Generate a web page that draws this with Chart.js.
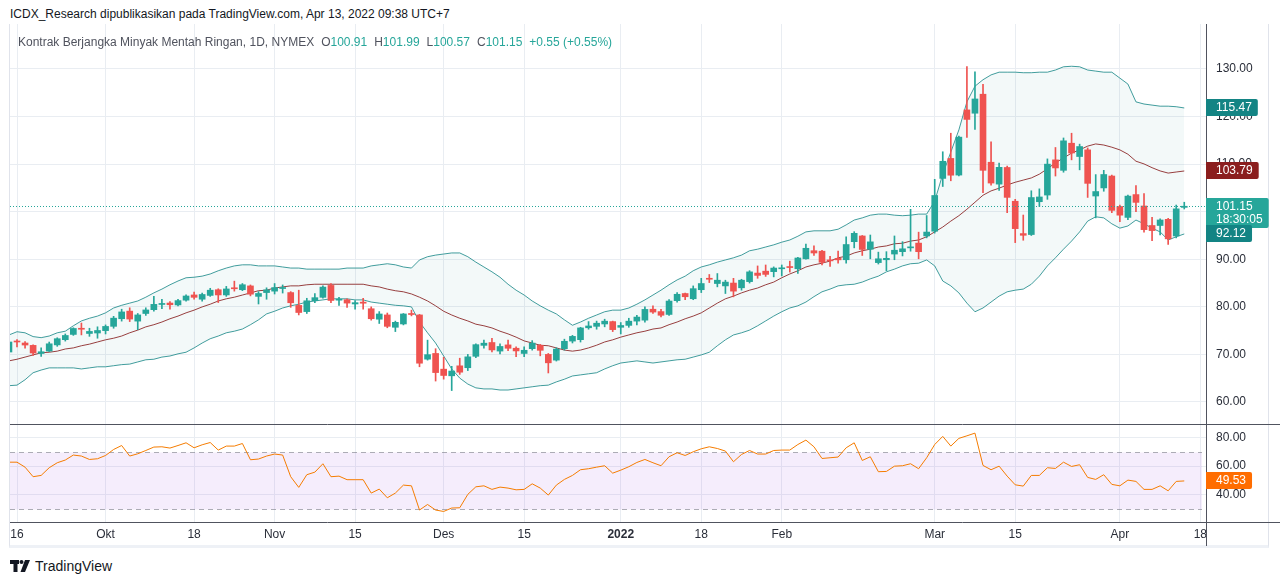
<!DOCTYPE html>
<html>
<head>
<meta charset="utf-8">
<script src="https://cdn.jsdelivr.net/npm/chart.js@4.4.1/dist/chart.umd.min.js"></script>
<style>
  body { margin: 0; background: #fff; width: 1280px; height: 584px; overflow: hidden; position: relative;
         font-family: "Liberation Sans", Arial, sans-serif; color: #131722; }
  #hdr { position: absolute; left: 10px; top: 7px; font-size: 12px; white-space: nowrap; }
  #frame { position: absolute; left: 9px; top: 24px; width: 1258px; height: 521px;
           border-left: 1px solid #e0e3eb; border-right: 1px solid #e0e3eb; border-bottom: 3px solid #eef1f6; }
  #mainWrap { position: absolute; left: 0; top: 24px; }
  #rsiWrap { position: absolute; left: 0; top: 424px; }
  #legend { position: absolute; left: 18px; top: 35px; font-size: 12px; color: #50535e; white-space: nowrap; }
  #legend .v { color: #26a69a; }
  #legend .g { margin-left: 7px; }
  #logo { position: absolute; left: 10px; top: 558px; font-size: 14px; color: #131722; display: flex; align-items: center; }
  #logo svg { margin-right: 5px; }
</style>
</head>
<body>
<div id="hdr">ICDX_Research dipublikasikan pada TradingView.com, Apr 13, 2022 09:38 UTC+7</div>
<div id="frame"></div>
<div id="mainWrap"><canvas id="main" width="1280" height="400"></canvas></div>
<div id="rsiWrap"><canvas id="rsi" width="1280" height="122"></canvas></div>
<div id="legend">Kontrak Berjangka Minyak Mentah Ringan, 1D, NYMEX<span class="g">O</span><span class="v">100.91</span><span class="g">H</span><span class="v">101.99</span><span class="g">L</span><span class="v">100.57</span><span class="g">C</span><span class="v">101.15</span><span class="v g">+0.55 (+0.55%)</span></div>
<div id="logo">
  <svg width="20" height="14" viewBox="0 0 20 14">
    <rect x="0" y="1" width="9" height="4" fill="#131722"/>
    <rect x="3.5" y="1" width="4" height="12" fill="#131722"/>
    <circle cx="11.5" cy="3" r="2" fill="#131722"/>
    <polygon points="15,1 20,1 15,13 10.5,13" fill="#131722"/>
  </svg>TradingView</div>

<script>
// trading days (last two are empty future slots on the axis)
const dates = [
  '2021-09-15','2021-09-16','2021-09-17','2021-09-20','2021-09-21','2021-09-22','2021-09-23','2021-09-24','2021-09-27','2021-09-28',
  '2021-09-29','2021-09-30','2021-10-01','2021-10-04','2021-10-05','2021-10-06','2021-10-07','2021-10-08','2021-10-11','2021-10-12',
  '2021-10-13','2021-10-14','2021-10-15','2021-10-18','2021-10-19','2021-10-20','2021-10-21','2021-10-22','2021-10-25','2021-10-26',
  '2021-10-27','2021-10-28','2021-10-29','2021-11-01','2021-11-02','2021-11-03','2021-11-04','2021-11-05','2021-11-08','2021-11-09',
  '2021-11-10','2021-11-11','2021-11-12','2021-11-15','2021-11-16','2021-11-17','2021-11-18','2021-11-19','2021-11-22','2021-11-23',
  '2021-11-24','2021-11-26','2021-11-29','2021-11-30','2021-12-01','2021-12-02','2021-12-03','2021-12-06','2021-12-07','2021-12-08',
  '2021-12-09','2021-12-10','2021-12-13','2021-12-14','2021-12-15','2021-12-16','2021-12-17','2021-12-20','2021-12-21','2021-12-22',
  '2021-12-23','2021-12-27','2021-12-28','2021-12-29','2021-12-30','2021-12-31','2022-01-03','2022-01-04','2022-01-05','2022-01-06',
  '2022-01-07','2022-01-10','2022-01-11','2022-01-12','2022-01-13','2022-01-14','2022-01-18','2022-01-19','2022-01-20','2022-01-21',
  '2022-01-24','2022-01-25','2022-01-26','2022-01-27','2022-01-28','2022-01-31','2022-02-01','2022-02-02','2022-02-03','2022-02-04',
  '2022-02-07','2022-02-08','2022-02-09','2022-02-10','2022-02-11','2022-02-14','2022-02-15','2022-02-16','2022-02-17','2022-02-18',
  '2022-02-22','2022-02-23','2022-02-24','2022-02-25','2022-02-28','2022-03-01','2022-03-02','2022-03-03','2022-03-04','2022-03-07',
  '2022-03-08','2022-03-09','2022-03-10','2022-03-11','2022-03-14','2022-03-15','2022-03-16','2022-03-17','2022-03-18','2022-03-21',
  '2022-03-22','2022-03-23','2022-03-24','2022-03-25','2022-03-28','2022-03-29','2022-03-30','2022-03-31','2022-04-01','2022-04-04',
  '2022-04-05','2022-04-06','2022-04-07','2022-04-08','2022-04-11','2022-04-12','2022-04-13','2022-04-14','2022-04-18'
];

const open = [
  70.5,72.65,72.4,71.9,70.2,70.7,72.0,73.1,74.2,75.5,
  74.4,74.5,75.0,75.9,77.5,79.1,77.0,78.6,79.4,80.5,
  80.8,80.4,81.4,82.5,81.6,82.4,83.6,82.5,83.9,83.6,
  84.4,82.2,83.0,83.3,83.85,83.0,80.3,79.0,81.3,82.0,
  84.5,81.4,81.5,80.6,81.0,79.6,77.4,78.3,75.7,76.4,
  78.5,78.3,69.0,70.2,66.9,65.5,67.6,67.2,69.6,71.9,
  72.5,70.7,72.0,71.3,70.2,71.2,71.9,70.0,68.8,71.2,
  72.8,73.1,75.6,75.9,76.4,76.9,75.7,76.1,77.0,77.2,
  79.5,79.0,78.4,81.3,82.8,81.7,83.6,85.9,84.9,84.4,
  85.0,84.0,85.3,87.1,87.5,87.4,88.0,88.4,88.0,90.1,
  91.8,91.7,89.8,90.2,89.9,93.7,94.9,92.1,89.3,89.9,
  91.1,91.6,92.4,93.4,94.9,95.9,107.0,111.2,107.7,121.4,
  120.7,124.7,110.4,105.8,109.3,102.2,95.4,95.2,102.1,103.5,
  110.9,108.7,114.4,111.6,113.0,103.3,105.0,107.5,101.1,98.8,
  103.6,101.2,97.1,97.1,98.4,94.9,100.91
];
const high = [
  72.8,73.1,72.7,72.0,71.4,72.6,73.5,74.3,75.6,76.6,
  75.5,75.8,76.2,78.0,79.5,79.8,78.6,79.8,82.2,81.6,
  81.1,81.6,82.5,83.1,82.9,83.9,83.8,84.3,85.4,84.9,
  84.6,83.2,84.0,84.9,84.6,83.2,83.5,81.8,82.8,84.4,
  84.9,82.0,81.7,81.3,81.8,80.0,79.0,78.7,77.0,78.6,
  79.3,78.4,73.0,71.2,69.4,67.5,69.2,70.0,72.2,73.0,
  73.4,72.2,73.0,71.6,71.6,72.9,72.1,70.2,71.4,73.2,
  74.0,75.7,76.9,77.0,77.4,77.0,76.7,77.6,78.2,80.0,
  80.2,79.5,81.5,83.0,82.9,84.4,86.0,86.8,87.0,85.6,
  86.0,85.8,87.6,88.6,88.8,88.4,88.8,89.6,90.4,93.2,
  92.8,91.9,90.6,91.7,94.7,95.8,95.0,95.1,91.5,91.6,
  94.9,93.7,100.5,95.7,99.2,106.8,112.6,116.5,115.9,130.5,
  129.4,126.8,114.7,110.2,109.6,102.6,99.3,104.4,104.8,111.1,
  113.5,115.5,116.5,114.2,113.4,107.8,108.7,107.7,101.4,103.5,
  105.5,103.8,98.8,98.5,98.6,101.4,101.99
];
const low = [
  70.3,71.6,71.3,69.8,69.6,70.6,71.7,72.8,74.0,74.1,
  73.8,73.4,74.3,75.5,77.0,76.9,75.2,78.2,79.1,79.6,
  79.5,80.2,81.2,81.6,81.2,82.2,80.9,82.2,83.3,83.4,
  82.3,80.6,81.6,82.7,82.9,79.9,78.3,78.6,80.9,81.8,
  80.9,80.3,79.9,79.5,79.5,77.2,76.5,75.6,74.8,76.2,
  78.1,67.4,68.8,64.4,64.8,62.4,65.8,66.6,69.3,71.3,
  70.5,70.1,70.8,69.5,69.5,70.9,69.7,66.1,68.6,70.9,
  72.4,72.6,75.3,75.3,75.8,74.8,74.3,75.7,76.2,76.8,
  78.6,77.9,78.2,81.0,81.5,81.5,83.0,85.1,84.2,82.8,
  82.1,83.5,85.0,86.0,86.4,86.3,86.5,87.3,87.0,90.0,
  90.8,88.8,88.5,89.2,89.2,92.4,90.8,90.1,89.0,87.6,
  89.9,90.7,91.7,90.1,94.5,95.5,105.3,106.5,107.5,115.6,
  117.3,104.0,105.6,104.5,99.8,93.5,94.0,95.0,101.1,102.6,
  107.5,108.3,110.9,108.8,103.0,98.7,104.3,99.8,97.9,98.3,
  100.0,95.7,93.9,95.1,93.1,94.5,100.57
];
const close = [
  72.61,72.61,71.97,70.29,70.56,72.23,73.30,73.98,75.45,75.29,
  74.83,75.03,75.88,77.62,78.93,77.43,78.30,79.35,80.52,80.64,
  80.44,81.31,82.28,82.0,82.6,83.5,82.5,83.76,83.8,84.65,
  82.66,82.81,83.57,84.05,84.0,80.86,78.81,81.27,81.93,84.15,
  81.34,81.59,80.79,80.88,80.76,77.5,78.5,75.9,76.75,78.50,
  78.39,68.15,69.95,66.18,65.57,66.50,66.26,69.49,72.05,72.36,
  70.94,71.67,71.29,70.73,70.87,72.38,70.86,68.23,71.12,72.76,
  73.79,75.57,75.98,76.56,76.99,75.21,76.08,76.99,77.85,79.46,
  78.90,78.23,81.22,82.64,82.12,83.82,84.9,85.8,85.6,85.2,
  83.3,85.6,87.35,86.61,86.82,88.15,88.2,88.26,90.27,92.31,
  91.32,89.36,89.66,89.88,93.10,95.46,92.07,93.66,90.1,90.2,
  91.9,92.2,92.6,91.59,95.72,103.41,110.60,107.67,115.68,119.40,
  123.70,108.70,106.02,109.33,103.01,96.44,95.04,102.98,103.1,110.0,
  109.2,114.9,112.34,113.7,105.96,104.24,107.82,100.28,99.27,103.28,
  101.96,96.23,96.03,98.26,94.29,100.60,101.15
];

// Bollinger Bands (20, 2) as drawn
const bbUpper = [
  73.4,74.0,73.8,73.1,72.9,73.2,73.8,74.1,75.1,76.0,
  76.5,76.9,77.5,78.4,78.9,79.3,79.7,80.4,81.2,81.9,
  82.7,83.4,84.0,84.1,84.3,84.7,85.3,85.8,86.2,86.4,
  86.4,86.2,86.2,86.2,86.0,85.8,85.8,85.6,85.6,85.6,
  85.6,85.6,85.8,85.8,85.8,86.2,86.4,86.6,86.4,86.0,
  85.8,87.3,87.9,88.2,88.4,88.6,88.6,87.9,86.9,86.0,
  85.1,84.1,82.8,81.7,80.8,79.7,78.8,78.0,77.3,76.2,
  75.2,75.8,76.5,77.1,77.7,78.0,78.0,78.4,79.1,79.9,
  80.8,81.7,82.7,83.6,84.3,85.3,86.0,86.4,86.9,87.3,
  87.7,88.2,89.0,89.3,89.7,90.1,90.6,91.0,91.7,92.5,
  92.7,92.7,92.7,93.0,93.8,94.7,95.1,95.6,95.8,95.8,
  95.6,95.5,95.6,95.8,95.8,98.2,103.2,107.3,111.4,116.6,
  119.5,120.7,121.6,122.1,122.1,122.1,122.0,122.0,122.1,122.1,
  122.5,123.1,123.2,123.1,122.5,122.3,122.1,122.1,121.0,119.9,
  116.6,116.2,116.0,115.8,115.8,115.7,115.47
];
const bbBasis = [
  68.6,68.9,69.3,69.7,70.1,70.2,70.4,70.8,71.0,71.4,
  71.7,72.1,72.5,72.8,73.2,73.8,74.3,74.9,75.3,75.8,
  76.4,76.9,77.5,78.0,78.6,79.1,79.7,80.1,80.4,80.8,
  81.2,81.6,81.7,82.1,82.3,82.5,82.5,82.7,82.8,82.8,
  82.8,82.8,82.8,82.8,82.8,82.5,82.3,81.9,81.6,81.4,
  81.0,80.4,79.7,78.8,77.8,77.1,76.5,76.0,75.4,75.1,
  74.7,74.1,73.6,73.0,72.3,71.9,71.5,71.4,71.0,70.6,
  70.4,70.6,71.0,71.5,72.1,72.5,73.0,73.4,73.8,74.1,
  74.5,74.7,75.3,75.8,76.4,76.9,77.5,78.4,79.3,80.1,
  80.6,81.2,81.7,82.1,82.7,83.2,84.0,84.7,85.3,86.0,
  86.4,86.7,87.1,87.7,88.0,88.6,89.0,89.3,89.7,89.9,
  90.3,90.4,90.8,91.0,91.6,92.5,93.4,94.5,95.5,96.7,
  98.0,99.3,100.1,100.6,101.2,101.7,102.1,102.5,103.2,104.2,
  105.3,106.2,107.1,107.7,108.4,108.8,108.6,108.2,107.7,106.9,
  105.6,105.1,104.4,103.8,103.4,103.6,103.79
];
const bbLower = [
  64.0,64.1,65.1,66.4,66.9,67.3,67.3,67.3,67.3,67.1,
  67.3,67.5,67.5,67.7,67.9,68.0,68.4,68.8,68.9,69.3,
  69.5,69.9,70.2,71.0,71.9,72.7,73.2,73.8,74.1,74.5,
  75.3,76.2,77.3,77.8,78.4,78.8,79.1,79.5,79.7,79.9,
  80.1,80.1,80.1,79.9,79.9,79.5,79.3,79.1,78.9,78.8,
  78.6,75.8,73.8,71.9,69.5,67.1,65.4,64.3,63.6,63.4,
  63.4,63.2,63.2,63.4,63.6,63.8,64.0,64.1,64.7,65.2,
  65.8,66.0,66.2,66.4,67.1,67.7,68.2,68.4,68.6,68.4,
  68.2,68.4,68.6,68.8,68.9,69.3,69.7,70.2,71.4,72.5,
  73.4,73.8,74.3,75.1,76.0,76.9,77.7,78.4,78.8,79.5,
  80.5,81.4,81.9,82.5,82.7,82.8,83.2,83.8,84.3,85.1,
  85.6,86.2,86.6,86.7,87.3,86.2,83.4,82.5,81.2,79.3,
  77.7,78.4,79.5,80.6,81.4,81.7,81.9,82.8,84.3,86.2,
  87.7,89.3,90.8,92.5,94.5,95.3,95.1,94.0,93.2,93.6,
  94.7,94.0,93.2,92.5,91.0,91.6,92.12
];

// RSI (14)
const rsi = [
  62.7,62.7,59.2,52.5,53.4,58.8,62.3,64.2,67.7,67.0,
  64.6,65.1,67.4,71.6,74.4,67.0,68.6,70.9,73.3,73.5,
  72.6,74.4,76.3,72.8,74.9,76.5,71.2,74.0,74.0,75.8,
  64.4,64.9,67.0,68.4,67.7,52.5,45.0,53.9,55.7,61.6,
  52.5,52.9,50.4,50.4,50.4,41.0,43.8,37.7,41.0,46.6,
  46.1,29.1,33.0,29.1,28.1,30.5,30.7,40.1,45.4,46.1,
  43.6,45.2,44.5,43.3,43.6,47.5,44.5,39.6,46.6,50.6,
  53.4,57.4,58.1,59.2,60.2,55.0,57.1,59.5,62.5,64.6,
  62.3,60.2,66.5,69.3,67.4,70.0,72.1,73.5,72.3,70.5,
  63.0,68.1,70.9,68.4,68.4,70.9,71.2,71.2,75.1,78.2,
  73.5,65.3,65.8,66.3,72.8,76.3,63.9,66.5,56.0,56.2,
  59.9,60.2,61.6,58.1,65.8,75.1,80.8,74.0,79.4,81.2,
  83.1,60.4,57.4,59.9,52.9,46.8,45.9,53.4,53.4,58.8,
  58.3,62.7,59.7,60.9,52.0,50.6,53.9,47.1,46.1,50.1,
  49.2,43.6,43.6,46.1,42.6,49.2,49.53
];

const tickDates = ['2021-09-16','2021-10-01','2021-10-18','2021-11-01','2021-11-15','2021-12-01','2021-12-15',
                   '2022-01-03','2022-01-18','2022-02-01','2022-03-01','2022-03-15','2022-04-01','2022-04-18'];
const tickText = ['16','Okt','18','Nov','15','Des','15','2022','18','Feb','Mar','15','Apr','18'];
const priceTicks = [60, 70, 80, 90, 100, 110, 120, 130];
const rsiTicks = [40, 60, 80];
const countdown = '18:30:05';

const upCol = '#26a69a', dnCol = '#ef5350';
const gridCol = '#e9edf2';
const axisCol = '#50535e';
const txtCol = '#2a2e39';
const n = close.length;
const idx = close.map((_, i) => i);
const candleCol = ctx => close[ctx.dataIndex] >= open[ctx.dataIndex] ? upCol : dnCol;
const font = { family: '"Liberation Sans", Arial, sans-serif', size: 12 };

function noPad(s) { s.paddingTop = 0; s.paddingBottom = 0; s.paddingLeft = 0; s.paddingRight = 0; }

function timeAxis(showLabels) {
  return {
    type: 'linear', min: 0.13, max: 148.7, offset: false,
    afterBuildTicks: s => { s.ticks = tickDates.map(d => ({ value: dates.indexOf(d) })); },
    ticks: {
      display: showLabels, autoSkip: false, maxRotation: 0, padding: 5, color: txtCol,
      font: ctx => ({ ...font, weight: tickText[ctx.index] === '2022' ? 'bold' : 'normal' }),
      callback: (v, i) => tickText[i]
    },
    grid: { color: gridCol, drawTicks: false, offset: false },
    border: { display: false },
    afterFit: s => { noPad(s); s.height = showLabels ? 24 : 0; }
  };
}

function priceBox(ctx, x0, y, bg, lines) {
  ctx.save();
  ctx.font = '12px "Liberation Sans", Arial, sans-serif';
  const tw = Math.max(...lines.map(t => ctx.measureText(t).width));
  const w = 10 + tw + 6;
  const h = lines.length > 1 ? 30 : 17;
  const top = Math.round(y - 8.5);
  ctx.fillStyle = bg;
  ctx.beginPath();
  ctx.roundRect(x0, top, w, h, [0, 2, 2, 0]);
  ctx.fill();
  ctx.fillStyle = '#fff';
  ctx.textBaseline = 'middle';
  lines.forEach((t, k) => ctx.fillText(t, x0 + 10, top + 9 + k * 12.5));
  ctx.restore();
}

const mainDeco = {
  id: 'mainDeco',
  afterDatasetsDraw(chart) {
    const { ctx, chartArea: a, scales } = chart;
    const y = Math.round(scales.y.getPixelForValue(close[n - 1])) + 0.5;
    ctx.save();
    ctx.strokeStyle = upCol;
    ctx.lineWidth = 1;
    ctx.setLineDash([1, 2]);
    ctx.beginPath(); ctx.moveTo(a.left, y); ctx.lineTo(a.right, y); ctx.stroke();
    ctx.restore();
  },
  afterDraw(chart) {
    const { ctx, chartArea: a, scales } = chart;
    const yb = scales.yb, y = scales.y;
    priceBox(ctx, a.right, yb.getPixelForValue(bbUpper[n - 1]), '#138484', [bbUpper[n - 1].toFixed(2)]);
    priceBox(ctx, a.right, yb.getPixelForValue(bbBasis[n - 1]), '#8b1e1e', [bbBasis[n - 1].toFixed(2)]);
    priceBox(ctx, a.right, y.getPixelForValue(close[n - 1]), upCol, [close[n - 1].toFixed(2), countdown]);
    priceBox(ctx, a.right, yb.getPixelForValue(bbLower[n - 1]), '#138484', [bbLower[n - 1].toFixed(2)]);
  }
};

new Chart(document.getElementById('main'), {
  type: 'bar',
  data: {
    datasets: [
      { type: 'bar', data: idx.map(i => ({ x: i, y: [open[i], close[i]] })), backgroundColor: candleCol,
        barThickness: 6, minBarLength: 1, grouped: false, order: 0, yAxisID: 'y' },
      { type: 'bar', data: idx.map(i => ({ x: i, y: [low[i], high[i]] })), backgroundColor: candleCol,
        barThickness: 1, grouped: false, order: 1, yAxisID: 'y' },
      { type: 'line', data: idx.map(i => ({ x: i, y: bbUpper[i] })), yAxisID: 'yb', borderColor: 'rgba(19,132,132,0.8)',
        borderWidth: 1, pointRadius: 0, fill: 4, backgroundColor: 'rgba(19,132,132,0.05)', order: 4 },
      { type: 'line', data: idx.map(i => ({ x: i, y: bbBasis[i] })), yAxisID: 'yb', borderColor: 'rgba(135,30,30,0.85)',
        borderWidth: 1, pointRadius: 0, fill: false, order: 2 },
      { type: 'line', data: idx.map(i => ({ x: i, y: bbLower[i] })), yAxisID: 'yb', borderColor: 'rgba(19,132,132,0.8)',
        borderWidth: 1, pointRadius: 0, fill: false, order: 3 }
    ]
  },
  options: {
    responsive: false, animation: false, events: [],
    layout: { padding: { left: 10, top: 0, right: 0, bottom: 0 } },
    plugins: { legend: { display: false }, tooltip: { enabled: false } },
    scales: {
      x: timeAxis(false),
      y: {
        position: 'right', min: 55.37, max: 139.46,
        afterBuildTicks: s => { s.ticks = priceTicks.map(v => ({ value: v })); },
        ticks: { padding: 10, color: txtCol, font, callback: v => v.toFixed(2) },
        grid: { color: gridCol, drawTicks: false },
        border: { display: true, color: axisCol },
        afterFit: s => { noPad(s); s.width = 74; }
      },
      yb: { display: false, min: 56.90, max: 131.03 }
    }
  },
  plugins: [mainDeco]
});

const rsiDeco = {
  id: 'rsiDeco',
  beforeDatasetsDraw(chart) {
    const { ctx, chartArea: a, scales } = chart;
    const y70 = Math.round(scales.y.getPixelForValue(70)) + 0.5;
    const y30 = Math.round(scales.y.getPixelForValue(30)) + 0.5;
    ctx.save();
    ctx.fillStyle = 'rgba(155,80,230,0.1)';
    ctx.fillRect(a.left, y70, a.right - 4 - a.left, y30 - y70);
    ctx.strokeStyle = 'rgba(120,123,134,0.6)';
    ctx.setLineDash([5, 4]);
    ctx.lineWidth = 1;
    [y70, y30].forEach(yy => { ctx.beginPath(); ctx.moveTo(a.left, yy); ctx.lineTo(a.right - 4, yy); ctx.stroke(); });
    ctx.restore();
  },
  afterDraw(chart) {
    const { ctx, chartArea: a, scales, width, height } = chart;
    ctx.save();
    ctx.strokeStyle = axisCol;
    ctx.lineWidth = 1;
    ctx.beginPath();
    ctx.moveTo(a.left, a.top + 0.5); ctx.lineTo(width, a.top + 0.5);
    ctx.moveTo(a.left, a.bottom + 0.5); ctx.lineTo(width, a.bottom + 0.5);
    ctx.moveTo(a.right + 0.5, a.top); ctx.lineTo(a.right + 0.5, height);
    ctx.stroke();
    ctx.restore();
    priceBox(ctx, a.right, scales.y.getPixelForValue(rsi[n - 1]), '#ff6d00', [rsi[n - 1].toFixed(2)]);
  }
};

new Chart(document.getElementById('rsi'), {
  type: 'line',
  data: {
    datasets: [
      { data: idx.map(i => ({ x: i, y: rsi[i] })), borderColor: '#f57c00', borderWidth: 1, pointRadius: 0, fill: false }
    ]
  },
  options: {
    responsive: false, animation: false, events: [],
    layout: { padding: { left: 10, top: 0, right: 0, bottom: 0 } },
    plugins: { legend: { display: false }, tooltip: { enabled: false } },
    scales: {
      x: timeAxis(true),
      y: {
        position: 'right', min: 20.7, max: 89.5,
        afterBuildTicks: s => { s.ticks = rsiTicks.map(v => ({ value: v })); },
        ticks: { padding: 10, color: txtCol, font, callback: v => v.toFixed(2) },
        grid: { color: gridCol, drawTicks: false },
        border: { display: true, color: axisCol },
        afterFit: s => { noPad(s); s.width = 74; }
      }
    }
  },
  plugins: [rsiDeco]
});
</script>
</body>
</html>
